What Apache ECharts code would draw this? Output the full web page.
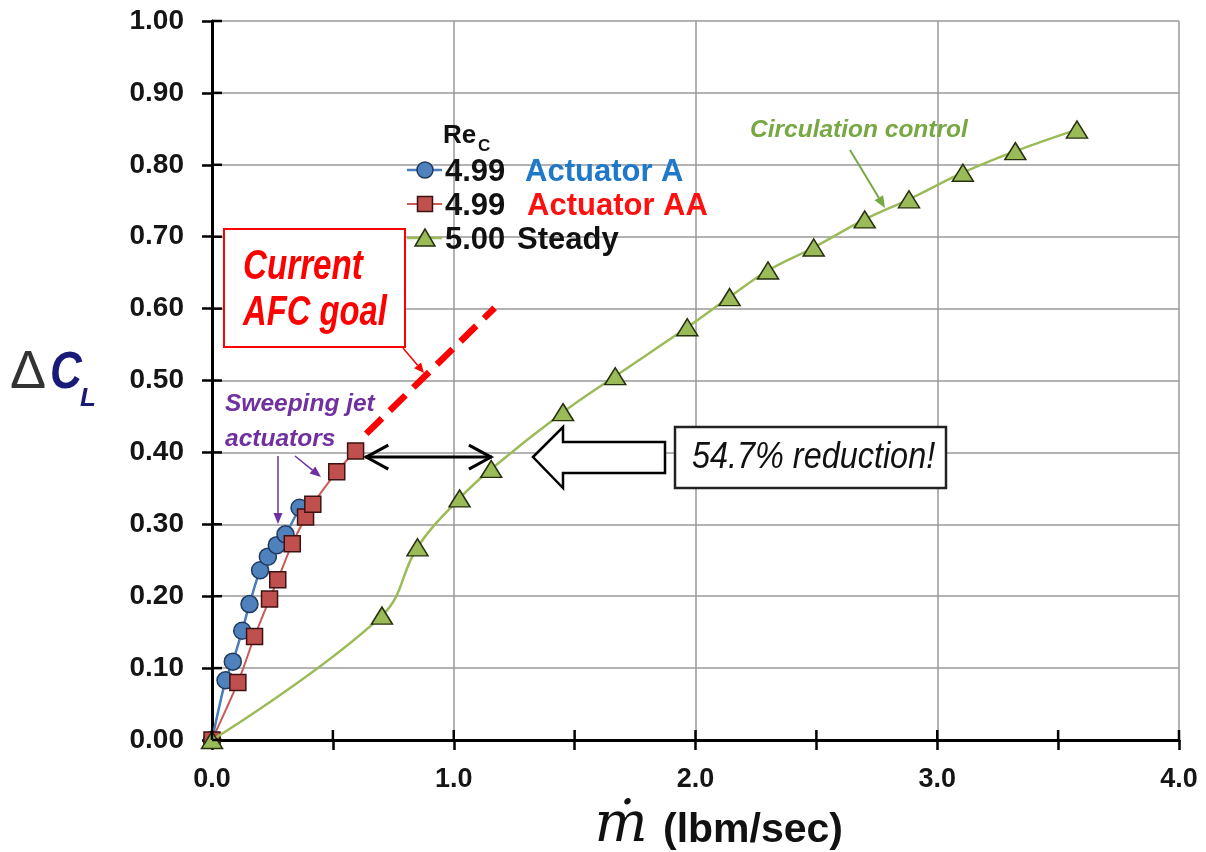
<!DOCTYPE html>
<html><head><meta charset="utf-8">
<script src="https://cdn.jsdelivr.net/npm/echarts@6/dist/echarts.min.js"></script>
<style>html,body{margin:0;padding:0;background:#fff}#c{width:1206px;height:852px}</style>
</head><body><div id="c"></div>
<script>
// ---- data ----
const xTickLabels = ['0.0','1.0','2.0','3.0','4.0'];
const yTickLabels = ['0.00','0.10','0.20','0.30','0.40','0.50','0.60','0.70','0.80','0.90','1.00'];

const actA_x = [0, 0.056, 0.086, 0.125, 0.155, 0.199, 0.231, 0.268, 0.304, 0.362];
const actA_y = [0, 0.083, 0.109, 0.152, 0.189, 0.236, 0.255, 0.271, 0.286, 0.323];

const actAA_x = [0, 0.107, 0.176, 0.238, 0.272, 0.332, 0.387, 0.417, 0.516, 0.594];
const actAA_y = [0, 0.080, 0.144, 0.196, 0.223, 0.273, 0.310, 0.328, 0.373, 0.402];

const steady_x = [0, 0.703, 0.850, 1.024, 1.155, 1.452, 1.668, 1.966, 2.141, 2.300, 2.489, 2.700, 2.883, 3.106, 3.323, 3.578];
const steady_y = [0, 0.173, 0.268, 0.336, 0.377, 0.456, 0.506, 0.574, 0.616, 0.653, 0.685, 0.724, 0.752, 0.789, 0.819, 0.849];

const goal_x = [0.638, 1.169];
const goal_y = [0.426, 0.601];

const reduction_y = 0.3935;
const reduction_x = [0.634, 1.158];

const zip = (xs, ys) => xs.map((x, i) => [x, ys[i]]);

const FONT = "'Liberation Sans', Arial, sans-serif";
const chart = echarts.init(document.getElementById('c'), null, {renderer: 'canvas'});

const tickStyle = {color: '#000', width: 2.5};

chart.setOption({
  animation: false,
  backgroundColor: '#fff',
  grid: {left: 212, right: 27, top: 21, bottom: 112, containLabel: false},
  xAxis: {
    type: 'value', min: 0, max: 4, interval: 1,
    axisLine: {show: true, onZero: false, lineStyle: {color: '#000', width: 3}},
    axisTick: {show: true, length: 10, lineStyle: tickStyle},
    minorTick: {show: true, splitNumber: 2, length: 10, lineStyle: tickStyle},
    axisLabel: {show: true, margin: 26, fontSize: 27, fontWeight: 'bold', color: '#151515', fontFamily: FONT,
      formatter: v => xTickLabels[Math.round(v)]},
    splitLine: {show: true, lineStyle: {color: '#9a9a9a', width: 1.5}}
  },
  yAxis: {
    type: 'value', min: 0, max: 1, interval: 0.1,
    axisLine: {show: true, onZero: false, lineStyle: {color: '#000', width: 3}},
    axisTick: {show: true, length: 10, lineStyle: tickStyle},
    axisLabel: {show: true, margin: 28, fontSize: 28, fontWeight: 'bold', color: '#151515', fontFamily: FONT,
      formatter: v => yTickLabels[Math.round(v * 10)]},
    splitLine: {show: true, lineStyle: {color: '#9a9a9a', width: 1.5}}
  },
  series: [
    {
      name: 'Actuator A', type: 'line', data: zip(actA_x, actA_y), smooth: 0.3,
      symbol: 'circle', symbolSize: 17, z: 3,
      lineStyle: {color: '#4A7EBB', width: 2.5},
      itemStyle: {color: '#4F81BD', borderColor: '#1F3A5F', borderWidth: 1.5}
    },
    {
      name: 'Actuator AA', type: 'line', data: zip(actAA_x, actAA_y), smooth: 0.3,
      symbol: 'rect', symbolSize: 16, z: 4,
      lineStyle: {color: '#C85A57', width: 2},
      itemStyle: {color: '#C0504D', borderColor: '#3F1212', borderWidth: 1.5}
    },
    {
      name: 'Steady', type: 'line', data: zip(steady_x, steady_y), smooth: 0.4,
      symbol: 'triangle', symbolSize: [21, 17], z: 5,
      lineStyle: {color: '#9BBB59', width: 2.5},
      itemStyle: {color: '#9BBB59', borderColor: '#26310F', borderWidth: 1.5}
    },
    {
      name: 'Goal', type: 'line', data: zip(goal_x, goal_y), symbol: 'none', z: 6,
      lineStyle: {color: '#FF0000', width: 6.5, type: [22, 11]}
    }
  ]
});

// ---- annotations ----
function arrowEl(x1, y1, x2, y2, color, w, hl, hw) {
  const ang = Math.atan2(y2 - y1, x2 - x1);
  const bx = x2 - hl * Math.cos(ang), by = y2 - hl * Math.sin(ang);
  const px = -Math.sin(ang) * hw, py = Math.cos(ang) * hw;
  return [
    {type: 'line', shape: {x1, y1, x2: bx, y2: by}, style: {stroke: color, lineWidth: w}, z: 100},
    {type: 'polygon', shape: {points: [[x2, y2], [bx + px, by + py], [bx - px, by - py]]}, style: {fill: color}, z: 100}
  ];
}
function txt(x, y, text, font, color, align, extra) {
  return Object.assign({
    type: 'text', x, y, z: 101,
    style: {text, font, fill: color, align: align || 'left', verticalAlign: 'middle'}
  }, extra || {});
}
const toPx = (x, y) => chart.convertToPixel({xAxisIndex: 0, yAxisIndex: 0}, [x, y]);

const g = [];
// inner half of the crossing tick marks
yTickLabels.forEach((lab) => {
  const p = toPx(0, parseFloat(lab));
  g.push({type: 'line', shape: {x1: p[0], y1: p[1], x2: p[0] + 10, y2: p[1]}, style: {stroke: '#000', lineWidth: 2.5}, z: 90});
});
for (let i = 0; i <= 8; i++) {
  const p = toPx(i * 0.5, 0);
  g.push({type: 'line', shape: {x1: p[0], y1: p[1], x2: p[0], y2: p[1] - 10}, style: {stroke: '#000', lineWidth: 2.5}, z: 90});
}

// Legend
g.push(txt(443, 136, 'Re', 'bold 26px ' + FONT, '#111'));
g.push(txt(478, 146, 'C', 'bold 17px ' + FONT, '#111'));
const rows = [170, 204, 238];
g.push({type: 'line', shape: {x1: 407, y1: rows[0], x2: 442, y2: rows[0]}, style: {stroke: '#4A7EBB', lineWidth: 2.5}, z: 100});
g.push({type: 'circle', shape: {cx: 425, cy: rows[0], r: 8}, style: {fill: '#4F81BD', stroke: '#1F3A5F', lineWidth: 1.5}, z: 100});
g.push({type: 'line', shape: {x1: 407, y1: rows[1], x2: 442, y2: rows[1]}, style: {stroke: '#C85A57', lineWidth: 2}, z: 100});
g.push({type: 'rect', shape: {x: 417.5, y: rows[1] - 7.5, width: 15, height: 15}, style: {fill: '#C0504D', stroke: '#3F1212', lineWidth: 1.5}, z: 100});
g.push({type: 'line', shape: {x1: 407, y1: rows[2], x2: 442, y2: rows[2]}, style: {stroke: '#9BBB59', lineWidth: 2.5}, z: 100});
g.push({type: 'polygon', shape: {points: [[425, rows[2] - 9], [415, rows[2] + 8], [435, rows[2] + 8]]}, style: {fill: '#9BBB59', stroke: '#26310F', lineWidth: 1.5}, z: 100});
const LF = 'bold 31px ' + FONT;
g.push(txt(445, rows[0] + 2, '4.99', LF, '#111'));
g.push(txt(445, rows[1] + 2, '4.99', LF, '#111'));
g.push(txt(445, rows[2] + 2, '5.00', LF, '#111'));
g.push(txt(525, rows[0] + 2, 'Actuator A', LF, '#1F78C8'));
g.push(txt(527, rows[1] + 2, 'Actuator AA', LF, '#FF1010'));
g.push(txt(517, rows[2] + 2, 'Steady', LF, '#111'));

// Current AFC goal box
g.push({type: 'rect', shape: {x: 224, y: 229, width: 181, height: 118}, style: {fill: '#fff', stroke: '#FF0000', lineWidth: 2}, z: 100});
g.push(txt(243, 267, 'Current', 'italic bold 42px ' + FONT, '#FF0000', 'left', {scaleX: 0.79}));
g.push(txt(243, 313, 'AFC goal', 'italic bold 42px ' + FONT, '#FF0000', 'left', {scaleX: 0.78}));
g.push(...arrowEl(403, 348, 424, 373, '#FF0000', 1.5, 10, 4.5));

// Sweeping jet actuators
g.push(txt(225, 404, 'Sweeping jet', 'italic bold 24.5px ' + FONT, '#7030A0'));
g.push(txt(225, 439, 'actuators', 'italic bold 24.5px ' + FONT, '#7030A0'));
g.push(...arrowEl(278, 456, 278, 524, '#7030A0', 1.5, 11, 4.5));
g.push(...arrowEl(295, 456, 321, 477, '#7030A0', 1.5, 11, 4.5));

// Circulation control
g.push(txt(750, 130, 'Circulation control', 'italic bold 24.5px ' + FONT, '#77A843'));
g.push(...arrowEl(850, 150, 885, 208, '#77A843', 2, 12, 5));

// double arrow
const p1 = toPx(reduction_x[0], reduction_y);
const p2 = toPx(reduction_x[1], reduction_y);
g.push({type: 'line', shape: {x1: p1[0], y1: p1[1], x2: p2[0], y2: p2[1]}, style: {stroke: '#000', lineWidth: 3}, z: 100});
g.push({type: 'polyline', shape: {points: [[p1[0] + 23, p1[1] - 12], [p1[0] + 1, p1[1]], [p1[0] + 23, p1[1] + 12]]}, style: {stroke: '#000', lineWidth: 3, fill: null}, z: 100});
g.push({type: 'polyline', shape: {points: [[p2[0] - 23, p2[1] - 12], [p2[0] - 1, p2[1]], [p2[0] - 23, p2[1] + 12]]}, style: {stroke: '#000', lineWidth: 3, fill: null}, z: 100});

// block arrow
g.push({type: 'polygon', shape: {points: [[533, 457], [563, 427], [563, 442], [665, 442], [665, 473], [563, 473], [563, 488]]}, style: {fill: '#fff', stroke: '#000', lineWidth: 2.5}, z: 100});
// reduction box
g.push({type: 'rect', shape: {x: 675, y: 427, width: 271, height: 61}, style: {fill: '#fff', stroke: '#222', lineWidth: 2.5}, z: 100});
g.push(txt(692, 458, '54.7% reduction!', 'italic 36px ' + FONT, '#111', 'left', {scaleX: 0.9}));

// Y axis title
g.push(txt(10, 373, '\u0394', '54px ' + FONT, '#333'));
g.push(txt(50, 374, 'C', 'italic bold 52px ' + FONT, '#1A1A78', 'left', {scaleX: 0.85}));
g.push(txt(80, 399, 'L', 'italic bold 26px ' + FONT, '#1A1A78'));

// X axis title
g.push(txt(621, 826, '\u1E41', "italic 56px 'DejaVu Serif', serif", '#111', 'center'));
g.push(txt(663, 831, '(lbm/sec)', 'bold 41px ' + FONT, '#111'));

chart.setOption({graphic: {elements: g}});
</script>
</body></html>
